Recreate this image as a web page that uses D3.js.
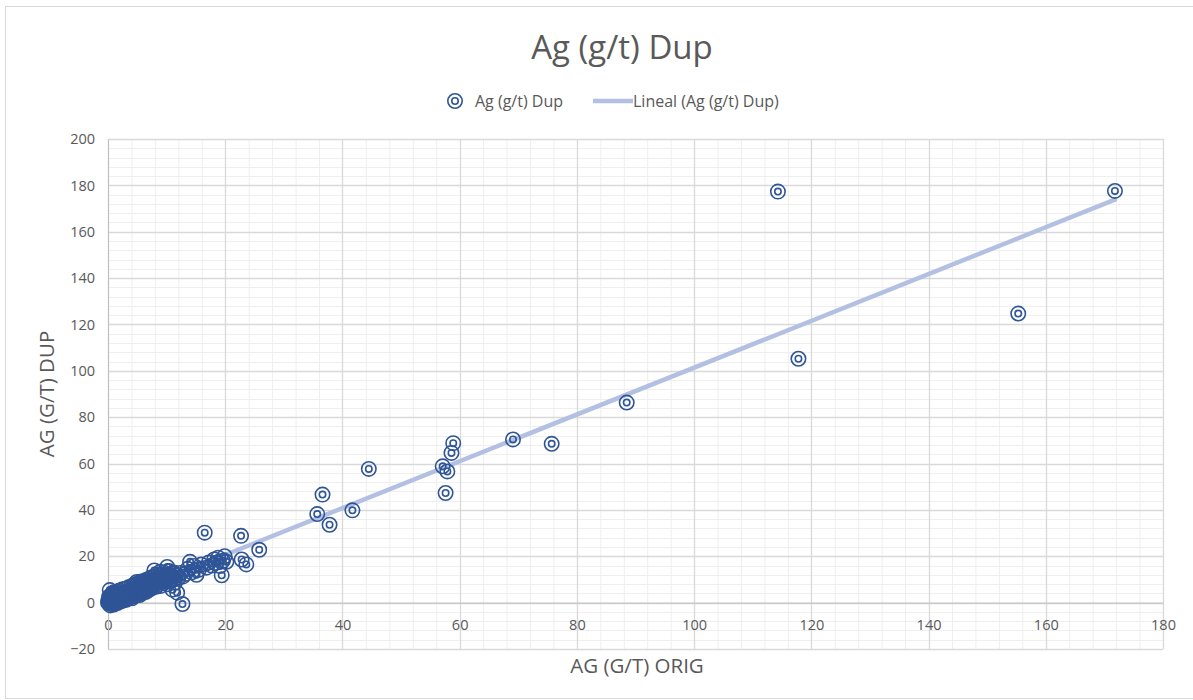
<!DOCTYPE html>
<html>
<head>
<meta charset="utf-8">
<script src="https://cdn.jsdelivr.net/npm/d3@7"></script>
<style>
  html, body { margin: 0; padding: 0; background: #fff; }
  svg { display: block; font-family: "Open Sans", Lato, sans-serif; }
</style>
</head>
<body>
<svg id="chart" width="1193" height="700"></svg>
<script>
// Ag (g/t) duplicate check: original assay vs duplicate assay, Excel-style scatter
// with a linear trendline.

// low-grade cluster [orig, dup]
const lowPoints = [
  [0.0, 0.0], [0.1, 0.4], [0.1, 1.3], [0.2, -0.5], [0.2, 2.6], [0.3, 0.8], [0.3, 5.4],
  [0.4, -1.2], [0.4, 1.9], [0.5, 0.2], [0.5, 3.1], [0.6, 1.1], [0.7, -0.4], [0.7, 2.3],
  [0.8, 0.6], [0.8, 3.6], [0.9, 1.5], [1.0, -0.8], [1.0, 2.7], [1.1, 0.9], [1.2, 1.8],
  [1.2, 4.1], [1.3, 0.3], [1.4, 2.5], [1.5, 1.2], [1.5, 3.3], [1.6, -0.2], [1.7, 2.0],
  [1.8, 0.8], [1.8, 3.9], [1.9, 1.6], [2.0, 2.9], [2.1, 0.5], [2.2, 2.2], [2.3, 3.7],
  [2.4, 1.3], [2.5, 2.6], [2.6, 0.9], [2.7, 4.3], [2.8, 1.9], [2.9, 3.0], [3.0, 2.3],
  [3.1, 1.2], [3.2, 3.8], [3.3, 2.7], [3.4, 4.6], [3.5, 1.8], [3.6, 3.2], [3.7, 5.0],
  [3.8, 2.5], [3.9, 4.0], [4.0, 3.3], [4.1, 1.9], [4.2, 5.4], [4.3, 3.6], [4.4, 4.6],
  [4.5, 2.8], [4.6, 5.9], [4.7, 4.1], [4.8, 3.2], [4.9, 8.9], [5.0, 5.2], [5.1, 6.6],
  [5.2, 4.0], [5.3, 5.8], [5.4, 3.3], [5.5, 6.9], [5.6, 4.8], [5.7, 7.5], [5.8, 5.6],
  [5.9, 4.2], [6.0, 6.4], [6.1, 7.9], [6.2, 5.3], [6.3, 6.9], [6.4, 4.6], [6.5, 8.2],
  [6.6, 6.1], [6.7, 7.3], [6.8, 5.2], [6.9, 8.7], [7.0, 6.8], [7.1, 7.9], [7.2, 5.9],
  [7.3, 9.1], [7.4, 7.2], [7.5, 6.3], [7.6, 8.6], [7.7, 7.5], [7.8, 9.6], [7.9, 13.9],
  [8.0, 8.1], [8.2, 6.8], [8.3, 9.3], [8.5, 7.7], [8.6, 10.2], [8.8, 8.6], [8.9, 13.3],
  [9.0, 7.2], [9.2, 9.8], [9.3, 11.0], [9.5, 8.4], [9.7, 10.5], [9.8, 9.2], [10.0, 11.6],
  [10.1, 15.4], [10.2, 7.9], [10.3, 10.4], [10.5, 12.1], [10.7, 9.4], [10.9, 11.2],
  [11.0, 5.6], [11.1, 12.6], [11.3, 10.1], [11.4, 8.6], [11.6, 11.8], [11.8, 4.3],
  [12.0, 10.6], [12.3, 12.8], [12.7, -0.6], [12.8, 11.3],
  // upper edge of the band
  [1.0, 4.5], [1.5, 4.8], [2.0, 5.2], [2.5, 5.8], [3.0, 6.0], [3.5, 6.6], [4.0, 7.1],
  [4.5, 7.8], [5.0, 8.0], [5.5, 9.0], [6.0, 9.2], [6.5, 9.8], [7.0, 10.3], [7.5, 11.0],
  [8.0, 11.4], [8.5, 12.2], [9.0, 12.0], [9.6, 12.9], [10.4, 13.6], [11.2, 13.0]
];

// 13 - 26 g/t
const midPoints = [
  [13.2, 12.4], [13.6, 14.6], [14.0, 17.6], [14.3, 13.1], [14.7, 15.8], [15.1, 12.0],
  [15.5, 14.2], [15.9, 16.4], [16.5, 30.2], [16.8, 15.1], [17.2, 17.3], [17.7, 16.0],
  [18.1, 18.6], [18.4, 17.2], [18.8, 19.4], [19.1, 15.8], [19.4, 11.8], [19.6, 18.1],
  [19.9, 20.0], [20.2, 17.6], [22.7, 28.8], [22.8, 18.6], [23.6, 16.5], [25.8, 22.8]
];

// high-grade samples
const highPoints = [
  [35.7, 38.2], [36.6, 46.6], [37.8, 33.6], [41.7, 39.8], [44.5, 57.7], [57.1, 58.8],
  [57.6, 47.3], [57.9, 56.6], [58.6, 64.6], [58.9, 68.8], [69.1, 70.4], [75.7, 68.5],
  [88.5, 86.3], [114.3, 177.3], [117.8, 105.2], [155.3, 124.7], [171.8, 177.6]
];

const xTicks = [0, 20, 40, 60, 80, 100, 120, 140, 160, 180];
const yTicks = [-20, 0, 20, 40, 60, 80, 100, 120, 140, 160, 180, 200];

const titleText = "Ag (g/t) Dup";
const seriesName = "Ag (g/t) Dup";
const trendName = "Lineal (Ag (g/t) Dup)";
const xTitle = "AG (G/T) ORIG";
const yTitle = "AG (G/T) DUP";

const points = lowPoints.concat(midPoints, highPoints);

const W = 1193, H = 700;
const plot = { left: 108, right: 1163, top: 139, bottom: 649 };
const textColor = "#595959";
const markColor = "#2f5597";
const font = "'Open Sans', Lato, sans-serif";

const svg = d3.select("#chart");

// chart border
svg.append("rect")
  .attr("x", 5.5).attr("y", 6.5)
  .attr("width", W + 10).attr("height", H - 8)
  .attr("fill", "#fff")
  .attr("stroke", "#d9d9d9");

const x = d3.scaleLinear().domain([0, 180]).range([plot.left, plot.right]);
const y = d3.scaleLinear().domain([-20, 200]).range([plot.bottom, plot.top]);

// minor gridlines (every 4 units, like Excel major/5)
const g = svg.append("g");
g.selectAll("line.minor-x")
  .data(d3.range(0, 181, 4).filter((v) => v % 20 !== 0))
  .join("line")
  .attr("x1", (d) => x(d) + 0.5).attr("x2", (d) => x(d) + 0.5)
  .attr("y1", plot.top).attr("y2", plot.bottom)
  .attr("stroke", "#efefef");
g.selectAll("line.minor-y")
  .data(d3.range(-20, 201, 4).filter((v) => v % 20 !== 0))
  .join("line")
  .attr("x1", plot.left).attr("x2", plot.right)
  .attr("y1", (d) => Math.round(y(d)) + 0.5).attr("y2", (d) => Math.round(y(d)) + 0.5)
  .attr("stroke", "#efefef");

// major gridlines
g.selectAll("line.major-x")
  .data(xTicks)
  .join("line")
  .attr("x1", (d) => Math.round(x(d)) + 0.5).attr("x2", (d) => Math.round(x(d)) + 0.5)
  .attr("y1", plot.top).attr("y2", plot.bottom)
  .attr("stroke", "#d9d9d9").attr("stroke-width", 1.3);
g.selectAll("line.major-y")
  .data(yTicks)
  .join("line")
  .attr("x1", plot.left).attr("x2", plot.right)
  .attr("y1", (d) => Math.round(y(d)) + 0.5).attr("y2", (d) => Math.round(y(d)) + 0.5)
  .attr("stroke", "#d9d9d9").attr("stroke-width", 1.3);

// axes: x axis crosses at 0, labels just below it
const xAxis = svg.append("g")
  .attr("transform", `translate(0,${y(0)})`)
  .call(d3.axisBottom(x).tickValues(xTicks).tickSize(0).tickPadding(17));
xAxis.select(".domain").attr("stroke", "#bfbfbf");
xAxis.selectAll("text")
  .attr("fill", textColor).attr("font-size", 14.5)
  .attr("font-family", font);

const yAxis = svg.append("g")
  .attr("transform", `translate(${plot.left},0)`)
  .call(d3.axisLeft(y).tickValues(yTicks).tickSize(0).tickPadding(13));
yAxis.select(".domain").attr("stroke", "#bfbfbf");
yAxis.selectAll("text")
  .attr("fill", textColor).attr("font-size", 14.5)
  .attr("font-family", font);

// linear trendline (least squares over the data range)
const mx = d3.mean(points, (p) => p[0]);
const my = d3.mean(points, (p) => p[1]);
const slope = d3.sum(points, (p) => (p[0] - mx) * (p[1] - my)) /
  d3.sum(points, (p) => (p[0] - mx) * (p[0] - mx));
const intercept = my - slope * mx;
const [xmin, xmax] = d3.extent(points, (p) => p[0]);
const trend = [[xmin, slope * xmin + intercept], [xmax, slope * xmax + intercept]];

svg.append("path")
  .datum(trend)
  .attr("d", d3.line().x((d) => x(d[0])).y((d) => y(d[1])))
  .attr("fill", "none")
  .attr("stroke", "#b4c0e2")
  .attr("stroke-width", 4.5)
  .attr("stroke-linecap", "round");

// double-ring markers
function marker(sel) {
  sel.append("circle").attr("r", 7.2)
    .attr("fill", "none").attr("stroke", markColor).attr("stroke-width", 1.6);
  sel.append("circle").attr("r", 3.2)
    .attr("fill", "none").attr("stroke", markColor).attr("stroke-width", 1.6);
}

svg.append("g")
  .selectAll("g")
  .data(points)
  .join("g")
  .attr("transform", (d) => `translate(${x(d[0])},${y(d[1])})`)
  .call(marker);

// title
svg.append("text")
  .attr("x", 622).attr("y", 59)
  .attr("text-anchor", "middle")
  .attr("font-size", 33)
  .attr("fill", textColor)
  .text(titleText);

// legend
const leg = svg.append("g").attr("transform", "translate(455,101)");
leg.append("g").call(marker);
leg.append("text")
  .attr("x", 20).attr("y", 5.5)
  .attr("font-size", 16).attr("fill", textColor)
  .text(seriesName);
leg.append("line")
  .attr("x1", 138).attr("x2", 178).attr("y1", 0).attr("y2", 0)
  .attr("stroke", "#b4c0e2").attr("stroke-width", 4.5);
leg.append("text")
  .attr("x", 178).attr("y", 5.5)
  .attr("font-size", 16).attr("fill", textColor)
  .text(trendName);

// axis titles
svg.append("text")
  .attr("x", 637).attr("y", 673)
  .attr("text-anchor", "middle")
  .attr("font-size", 20.5).attr("fill", textColor)
  .text(xTitle);

svg.append("text")
  .attr("transform", `translate(54,${(plot.top + plot.bottom) / 2}) rotate(-90)`)
  .attr("text-anchor", "middle")
  .attr("font-size", 20.5).attr("fill", textColor)
  .text(yTitle);
</script>
</body>
</html>
